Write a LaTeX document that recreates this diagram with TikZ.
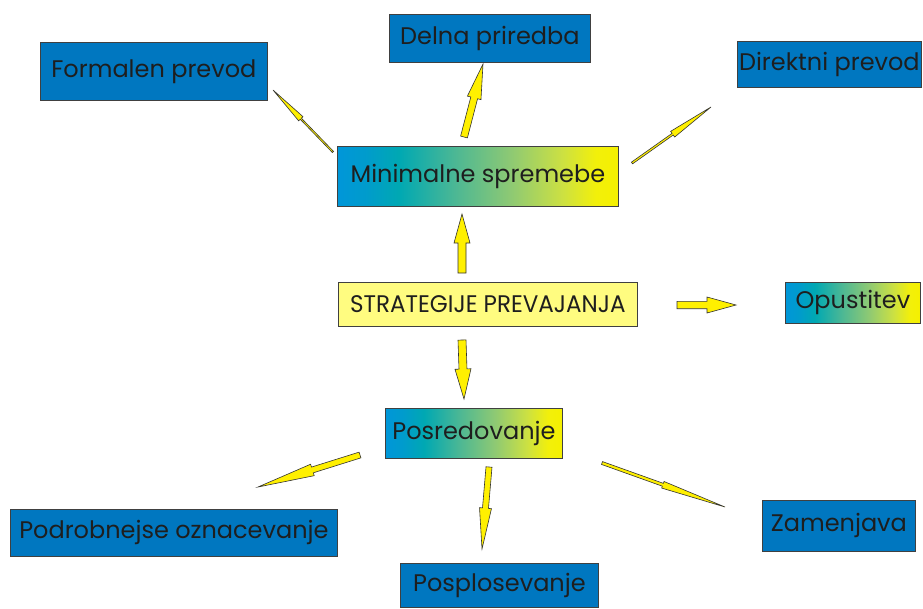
\documentclass[tikz,border=0pt]{standalone}
\usepackage{fontspec}
\setmainfont{Poppins}
\usetikzlibrary{calc}
\definecolor{boxblue}{RGB}{0,119,192}
\definecolor{lightyel}{RGB}{255,252,128}
\definecolor{arrowyel}{RGB}{255,240,0}
\definecolor{txt}{RGB}{30,30,30}
\pgfdeclarehorizontalshading{bgy}{100bp}{%
  rgb(0bp)=(0,0.59,0.85); rgb(25bp)=(0,0.59,0.85);
  rgb(30bp)=(0,0.61,0.80); rgb(36bp)=(0,0.66,0.70);
  rgb(46bp)=(0.30,0.72,0.58); rgb(56bp)=(0.56,0.79,0.45);
  rgb(65bp)=(0.80,0.88,0.26); rgb(71bp)=(0.95,0.94,0.04);
  rgb(75bp)=(0.96,0.94,0); rgb(100bp)=(0.96,0.94,0)}
\tikzset{
  box/.style={draw=black!75, line width=0.8pt, anchor=north west, inner sep=0pt,
    text=txt, font=\fontsize{24}{28}\selectfont},
  bluebox/.style={box, fill=boxblue},
  gradbox/.style={box, shading=bgy},
  yelbox/.style={box, fill=lightyel},
  arrowstyle/.style={draw=black!80, fill=arrowyel, line width=0.6pt, line join=miter}
}
\newcommand\blockarrow[5]{%
  \coordinate (bb) at ($(#2)!#5!(#1)$);
  \draw[arrowstyle] ($(#1)!#3!90:(#2)$) -- ($(bb)!#3!90:(#2)$) -- ($(bb)!#4!90:(#2)$)
    -- (#2) -- ($(bb)!#4!-90:(#2)$) -- ($(bb)!#3!-90:(#2)$) -- ($(#1)!#3!-90:(#2)$) -- cycle;
}
\begin{document}
\begin{tikzpicture}[x=1pt,y=-1pt]
\useasboundingbox (0,0) rectangle (923,608);
\fill[white] (0,0) rectangle (923,608);
% boxes
\node[bluebox, minimum width=227pt, minimum height=58pt] (formal) at (40,42) {Formalen prevod};
\node[bluebox, minimum width=201pt, minimum height=48pt] (delna) at (389,14) {Delna priredba};
\node[bluebox, minimum width=184pt, minimum height=46pt] (direkt) at (737,41) {Direktni prevod};
\node[gradbox, minimum width=281pt, minimum height=60pt] (minimal) at (337,146) {Minimalne spremebe};
\node[yelbox, minimum width=299pt, minimum height=44pt] (strat) at (338,282) {\scalebox{0.96}[1]{STRATEGIJE PREVAJANJA}};
\node[gradbox, minimum width=135pt, minimum height=41pt] (opust) at (785,282) {Opustitev};
\node[gradbox, minimum width=177pt, minimum height=50pt] (posred) at (385,408) {Posredovanje};
\node[bluebox, minimum width=327pt, minimum height=47pt] (podrob) at (10,509) {Podrobnejse oznacevanje};
\node[bluebox, minimum width=153pt, minimum height=51pt] (zamen) at (762,500) {Zamenjava};
\node[bluebox, minimum width=198pt, minimum height=44pt] (posplo) at (400,563) {Posplosevanje};
% arrow end points
\coordinate (aFt) at (333,152); \coordinate (aFh) at (273,90);
\coordinate (aDt) at (464,137); \coordinate (aDh) at (483,64);
\coordinate (aRt) at (632,163); \coordinate (aRh) at (711,107);
\coordinate (aMt) at (462,273); \coordinate (aMh) at (462,214);
\coordinate (aOt) at (677,305); \coordinate (aOh) at (736,305);
\coordinate (aPt) at (462,340); \coordinate (aPh) at (464,399);
\coordinate (aBt) at (360,455); \coordinate (aBh) at (258,487);
\coordinate (aSt) at (489,467); \coordinate (aSh) at (482,549);
\coordinate (aZt) at (602,463); \coordinate (aZh) at (725,507);
% arrows
\blockarrow{aFt}{aFh}{0.8pt}{3pt}{40pt}
\blockarrow{aDt}{aDh}{3.5pt}{7pt}{35pt}
\blockarrow{aRt}{aRh}{1pt}{3.5pt}{47pt}
\blockarrow{aMt}{aMh}{4pt}{8pt}{29pt}
\blockarrow{aOt}{aOh}{3.7pt}{8pt}{29pt}
\blockarrow{aPt}{aPh}{4pt}{8pt}{30pt}
\blockarrow{aBt}{aBh}{3pt}{6pt}{57pt}
\blockarrow{aSt}{aSh}{3pt}{6pt}{41pt}
\blockarrow{aZt}{aZh}{1.5pt}{3.5pt}{66pt}
\end{tikzpicture}
\end{document}
